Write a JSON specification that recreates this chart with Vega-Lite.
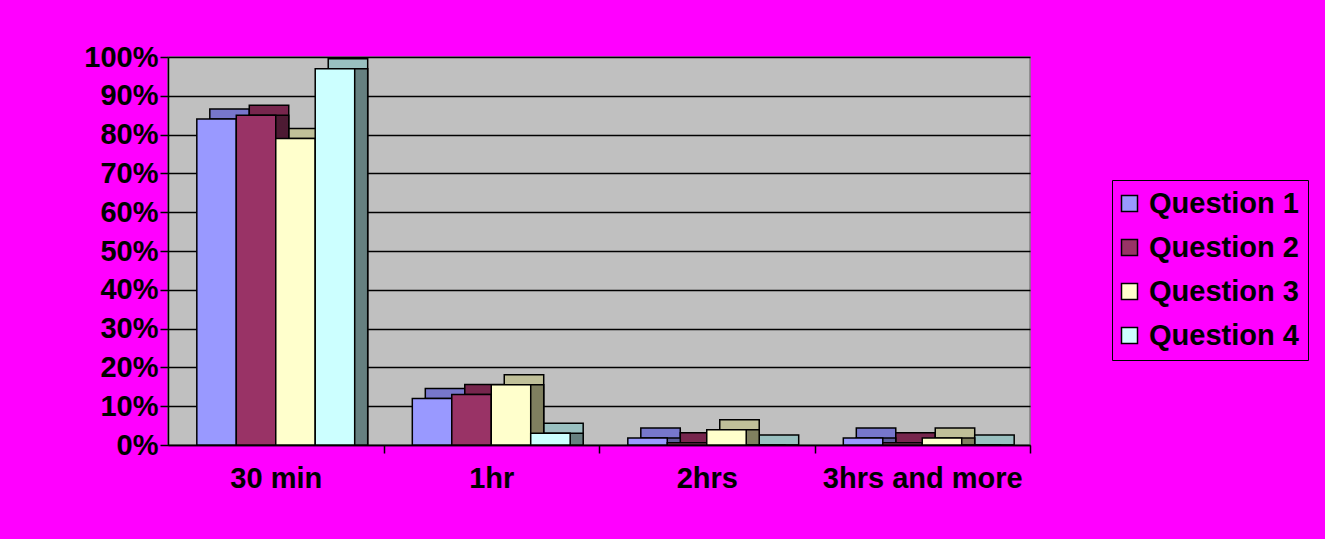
{
  "$schema": "https://vega.github.io/schema/vega-lite/v6.json",
  "width": 862,
  "height": 388,
  "autosize": {"type": "none"},
  "padding": {"left": 168, "top": 57, "right": 295, "bottom": 94},
  "background": "#FF00FF",
  "config": {
    "font": "Liberation Sans",
    "view": {"fill": "#C0C0C0", "stroke": "#808080", "strokeWidth": 1.5}
  },
  "data": {
    "values": [
      {"cat": "30 min", "q": "Question 1", "v": 0.84},
      {"cat": "30 min", "q": "Question 2", "v": 0.85},
      {"cat": "30 min", "q": "Question 3", "v": 0.79},
      {"cat": "30 min", "q": "Question 4", "v": 0.97},
      {"cat": "1hr", "q": "Question 1", "v": 0.12},
      {"cat": "1hr", "q": "Question 2", "v": 0.13},
      {"cat": "1hr", "q": "Question 3", "v": 0.155},
      {"cat": "1hr", "q": "Question 4", "v": 0.03},
      {"cat": "2hrs", "q": "Question 1", "v": 0.018},
      {"cat": "2hrs", "q": "Question 2", "v": 0.006},
      {"cat": "2hrs", "q": "Question 3", "v": 0.039},
      {"cat": "2hrs", "q": "Question 4", "v": 0},
      {"cat": "3hrs and more", "q": "Question 1", "v": 0.018},
      {"cat": "3hrs and more", "q": "Question 2", "v": 0.006},
      {"cat": "3hrs and more", "q": "Question 3", "v": 0.018},
      {"cat": "3hrs and more", "q": "Question 4", "v": 0}
    ]
  },
  "encoding": {
    "x": {
      "field": "cat",
      "type": "nominal",
      "sort": ["30 min", "1hr", "2hrs", "3hrs and more"],
      "scale": {"paddingInner": 0, "paddingOuter": 0},
      "axis": {
        "title": null,
        "labelAngle": 0,
        "labelFontSize": 29,
        "labelFontWeight": "bold",
        "labelColor": "black",
        "labelPadding": 11,
        "labelLimit": 0,
        "labelOffset": -107.75,
        "domainColor": "black",
        "domainWidth": 1.5,
        "tickColor": "black",
        "tickWidth": 1.5,
        "tickSize": 8,
        "tickOffset": 107.75,
        "grid": false
      }
    },
    "y": {
      "field": "v",
      "type": "quantitative",
      "scale": {"domain": [0, 1]},
      "axis": {
        "title": null,
        "values": [0, 0.1, 0.2, 0.3, 0.4, 0.5, 0.6, 0.7, 0.8, 0.9, 1],
        "format": ".0%",
        "labelFontSize": 29,
        "labelFontWeight": "bold",
        "labelColor": "black",
        "labelPadding": 2,
        "domainColor": "black",
        "domainWidth": 1.5,
        "tickColor": "black",
        "tickWidth": 1.5,
        "tickSize": 8,
        "grid": true,
        "gridColor": "black",
        "gridWidth": 1.5
      }
    }
  },
  "layer": [
    {
      "mark": {"type": "bar", "yOffset": -10, "y2Offset": 0.01, "stroke": "black", "strokeWidth": 1.5},
      "encoding": {
        "y2": {"datum": 0},
        "xOffset": {"field": "q", "type": "nominal", "scale": {"range": [13, 228.5], "paddingInner": 0, "paddingOuter": 0.73}},
        "color": {
          "field": "q",
          "type": "nominal",
          "scale": {"range": ["#7777CC", "#77264D", "#C0C099", "#99C0C0"]},
          "legend": null
        }
      }
    },
    {
      "mark": {"type": "bar", "stroke": "black", "strokeWidth": 1.5},
      "encoding": {
        "xOffset": {"field": "q", "type": "nominal", "scale": {"range": [13, 228.5], "paddingInner": 0, "paddingOuter": 0.73}},
        "color": {
          "field": "q",
          "type": "nominal",
          "scale": {"range": ["#5C5C99", "#4D1A33", "#80805F", "#668080"]},
          "legend": null
        }
      }
    },
    {
      "mark": {"type": "bar", "stroke": "black", "strokeWidth": 1.5},
      "encoding": {
        "xOffset": {"field": "q", "type": "nominal", "scale": {"range": [0, 215.5], "paddingInner": 0, "paddingOuter": 0.73}},
        "color": {
          "field": "q",
          "type": "nominal",
          "scale": {"range": ["#9999FF", "#993366", "#FFFFCC", "#CCFFFF"]},
          "legend": {
            "orient": "none",
            "legendX": 944,
            "legendY": 123,
            "title": null,
            "labelFontSize": 29,
            "labelFontWeight": "bold",
            "labelColor": "black",
            "symbolType": "square",
            "symbolSize": 256,
            "symbolStrokeColor": "black",
            "symbolStrokeWidth": 1.5,
            "symbolOpacity": 1,
            "symbolOffset": -6,
            "strokeColor": "black",
            "fillColor": "#FF00FF",
            "padding": 9,
            "rowPadding": 14,
            "labelOffset": 5
          }
        }
      }
    }
  ],
  "resolve": {"scale": {"color": "independent", "xOffset": "independent"}}
}
